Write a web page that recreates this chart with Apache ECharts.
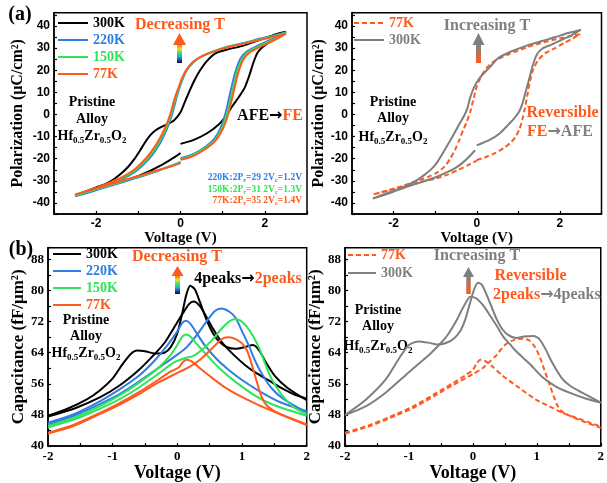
<!DOCTYPE html>
<html>
<head>
<meta charset="utf-8">
<script src="https://cdn.jsdelivr.net/npm/echarts@6.0.0/dist/echarts.min.js"></script>
<style>
html, body { margin: 0; padding: 0; background: #fff; }
#chart { width: 607px; height: 483px; }
</style>
</head>
<body>
<div id="chart"></div>
<script>
// P-V loops, (V, P); start at 0V, up to +2.5, down to -2.5, back to 0
const peBlack300 = [[0,-13.3],[0.3,-11.6],[0.63,-8.5],[0.9,-4.6],[1.06,-1.2],[1.22,3.5],[1.38,7.8],[1.52,12],[1.63,17.5],[1.73,23.5],[1.83,28],[1.97,30.8],[2.2,33.8],[2.5,37.4],
  [2.25,36.2],[2.0,34.5],[1.7,32.5],[1.45,30.9],[1.1,29.3],[0.83,27.6],[0.62,24],[0.45,19.5],[0.32,15],[0.2,10],[0.1,5.5],[0,1],[-0.15,-2.6],[-0.31,-4.4],[-0.45,-5.6],[-0.58,-7],[-0.71,-9.2],[-0.84,-12.6],[-0.97,-16.6],[-1.1,-20.3],[-1.23,-23.4],[-1.4,-26.6],[-1.6,-29.5],[-1.8,-31.6],[-2.0,-33],[-2.25,-34.8],[-2.5,-36.6],
  [-2.2,-35.2],[-1.9,-33.3],[-1.6,-31.5],[-1.3,-29.8],[-1.0,-27.8],[-0.75,-25.8],[-0.5,-23.4],[-0.3,-21.2],[-0.13,-19.2],[0,-17.4]];
const peBlue220 = [[0,-19.8],[0.3,-18],[0.6,-14.5],[0.8,-11],[0.93,-7],[1.03,-2],[1.1,3],[1.17,9],[1.25,15.5],[1.33,21],[1.43,25.5],[1.58,28.5],[1.8,30.8],[2.05,33],[2.3,35],[2.5,37.2],
  [2.2,35.6],[1.9,34.3],[1.5,32.3],[1.1,30.5],[0.75,28.3],[0.5,26.2],[0.3,23.5],[0.15,20],[0.05,16],[-0.05,10.5],[-0.13,5],[-0.2,0],[-0.28,-4.5],[-0.38,-9],[-0.5,-13.5],[-0.66,-18],[-0.86,-22.3],[-1.06,-25.6],[-1.36,-29],[-1.7,-31.8],[-2.0,-33.8],[-2.5,-37],
  [-2.1,-34.8],[-1.7,-32.5],[-1.3,-30.2],[-0.9,-27.8],[-0.5,-25.2],[-0.2,-23],[0,-21.5]];
const peGreen150 = [[0,-20.2],[0.3,-18.4],[0.6,-15],[0.8,-11.8],[0.94,-7.8],[1.05,-2.8],[1.13,2.2],[1.2,8],[1.28,14.5],[1.36,20.3],[1.46,25],[1.6,28.2],[1.83,30.5],[2.08,32.8],[2.3,34.7],[2.5,36.9],
  [2.2,35.3],[1.9,34],[1.5,32.1],[1.1,30.4],[0.75,28.2],[0.5,26.2],[0.3,23.6],[0.15,20.2],[0.05,16.5],[-0.05,11.2],[-0.14,5.8],[-0.21,0.8],[-0.29,-3.7],[-0.39,-8.2],[-0.52,-13],[-0.68,-17.5],[-0.88,-21.9],[-1.08,-25.3],[-1.38,-28.8],[-1.7,-31.4],[-2.0,-33.5],[-2.5,-36.6],
  [-2.1,-34.4],[-1.7,-32.1],[-1.3,-29.8],[-0.9,-27.5],[-0.5,-25.1],[-0.2,-23.1],[0,-21.8]];
const peOrange77 = [[0,-20.5],[0.3,-18.8],[0.6,-15.5],[0.8,-12.5],[0.95,-8.5],[1.07,-3.5],[1.15,1.5],[1.22,7],[1.3,13.5],[1.38,19.5],[1.48,24.5],[1.62,27.8],[1.85,30.2],[2.1,32.5],[2.3,34.3],[2.5,36.5],
  [2.2,35],[1.9,33.8],[1.5,32],[1.1,30.3],[0.75,28.2],[0.5,26.3],[0.3,23.8],[0.15,20.5],[0.05,17],[-0.05,12],[-0.15,6.5],[-0.22,1.5],[-0.3,-3],[-0.4,-7.5],[-0.54,-12.5],[-0.7,-17],[-0.9,-21.5],[-1.1,-25],[-1.4,-28.5],[-1.7,-31],[-2.0,-33.2],[-2.5,-36.2],
  [-2.1,-34],[-1.7,-31.8],[-1.3,-29.5],[-0.9,-27.3],[-0.5,-25],[-0.2,-23.3],[0,-22]];
const peOrange77r = [[0,-20.6],[0.25,-19],[0.45,-17.4],[0.65,-15.2],[0.8,-13],[0.93,-10.2],[1.03,-6.5],[1.1,-2],[1.16,3],[1.22,9],[1.28,15],[1.36,20.5],[1.48,24.6],[1.64,27.6],[1.85,29.6],[2.1,32.3],[2.3,34.3],[2.48,36.3],
  [2.2,35.2],[1.9,34],[1.57,32.4],[1.2,30.3],[0.77,27.2],[0.5,25],[0.36,23.2],[0.22,20.6],[0.1,17],[0,12.5],[-0.08,6.8],[-0.16,1],[-0.24,-3.3],[-0.33,-7.2],[-0.42,-11.5],[-0.52,-15.9],[-0.64,-20],[-0.77,-23.5],[-0.95,-26.2],[-1.17,-28.2],[-1.5,-30.5],[-1.82,-32.5],[-2.2,-34.6],[-2.5,-36.2],
  [-2.1,-34.3],[-1.7,-32.1],[-1.3,-30.3],[-1.0,-29],[-0.7,-27.2],[-0.44,-25],[-0.2,-22.8],[0,-20.9]];
const peGray300r = [[0,-14],[0.32,-11.4],[0.55,-8.6],[0.75,-4.8],[0.9,-1.8],[1.02,1.3],[1.1,5],[1.17,9.8],[1.24,14.5],[1.3,19],[1.37,23.5],[1.45,27.2],[1.58,29.8],[1.8,31.6],[2.05,33.8],[2.28,35.8],[2.5,38.2],
  [2.2,36.8],[1.9,35],[1.57,33.2],[1.2,31.1],[0.77,28],[0.5,25.2],[0.32,21.5],[0.16,18.4],[0.05,16],[-0.07,12],[-0.16,7.5],[-0.23,2.5],[-0.3,-0.5],[-0.4,-3.7],[-0.52,-7.8],[-0.66,-12.5],[-0.8,-17],[-0.94,-21.3],[-1.08,-24.5],[-1.25,-27.2],[-1.45,-29.8],[-1.82,-33.3],[-2.2,-35.8],[-2.5,-38],
  [-2.1,-35.6],[-1.7,-32.8],[-1.3,-30.4],[-1.0,-28.5],[-0.7,-26],[-0.5,-24],[-0.35,-22],[-0.18,-19],[-0.04,-16.2]];

// C-V butterflies, (V, C), two sweeps per temperature
const cvBlack300a = [[-2,47.8],[-1.7,49.6],[-1.4,52],[-1.2,54.3],[-1.0,57.4],[-0.85,61],[-0.72,63.7],[-0.62,64.6],[-0.5,64.4],[-0.35,63.8],[-0.2,64],[-0.1,65.5],[0,69],[0.08,74.5],[0.14,79],[0.2,81.2],[0.27,80.3],[0.35,77],[0.45,72.5],[0.55,69],[0.65,66.8],[0.77,65.4],[0.9,65],[1.05,65.5],[1.17,66],[1.27,64.5],[1.37,61.5],[1.5,58.2],[1.7,55],[2,51.8]];
const cvBlack300b = [[-2,47.6],[-1.6,49.6],[-1.2,52.5],[-0.9,55.5],[-0.6,59.5],[-0.4,62.8],[-0.2,66.5],[-0.05,70.5],[0.08,74],[0.18,76.5],[0.25,77.2],[0.35,76],[0.45,73.2],[0.55,70.2],[0.65,67.6],[0.75,65.5],[0.9,63],[1.05,60.8],[1.2,59],[1.4,57],[1.6,55],[1.8,53.3],[2,52.2]];
const cvBlue220a = [[-2,46],[-1.6,48.2],[-1.2,51.5],[-0.9,54.5],[-0.6,58],[-0.35,62],[-0.15,66],[0,69.5],[0.07,71.5],[0.13,72.2],[0.2,71.5],[0.3,69],[0.42,66],[0.6,62.5],[0.8,59.5],[1.0,57],[1.3,53.8],[1.6,51.2],[2,49]];
const cvBlue220b = [[-2,45.6],[-1.6,47.8],[-1.2,50.8],[-0.9,53.3],[-0.6,56.5],[-0.3,60],[0,63.5],[0.15,65.5],[0.3,68.5],[0.45,72],[0.58,74.7],[0.68,75.4],[0.8,74.6],[0.9,73],[1.0,69.5],[1.1,66],[1.2,62],[1.3,58.8],[1.45,55],[1.65,52],[2,48.6]];
const cvGreen150a = [[-2,45.2],[-1.6,47.3],[-1.2,50.3],[-0.9,53],[-0.6,56.2],[-0.3,60],[-0.1,63.5],[0,66],[0.07,68],[0.13,68.7],[0.2,68.2],[0.3,66.3],[0.45,63.5],[0.65,60],[0.9,56.5],[1.2,53],[1.5,50.5],[2,47.8]];
const cvGreen150b = [[-2,44.8],[-1.6,46.8],[-1.2,49.6],[-0.9,52],[-0.6,55],[-0.3,58.5],[-0.05,61.5],[0.1,62.5],[0.25,63.2],[0.4,65],[0.55,67.5],[0.7,70.5],[0.8,72],[0.88,72.6],[0.97,72.3],[1.07,70.8],[1.17,68.3],[1.27,65],[1.35,61.5],[1.45,57.5],[1.6,53.5],[1.8,50],[2,48.2]];
const cvOrange77a = [[-2,43.4],[-1.6,45.5],[-1.2,48.5],[-0.9,51],[-0.6,53.8],[-0.3,57],[-0.1,59.2],[0.02,60.2],[0.08,61.5],[0.14,62.2],[0.22,61.8],[0.35,60],[0.5,58],[0.7,55.5],[0.9,53.5],[1.2,51],[1.5,48.8],[2,45.4]];
const cvOrange77b = [[-2,43.2],[-1.6,45.2],[-1.2,48.2],[-0.9,50.6],[-0.6,53.3],[-0.3,56.3],[0,58.8],[0.2,60.5],[0.35,62.2],[0.5,64.5],[0.62,66.5],[0.72,67.8],[0.8,68],[0.9,67.5],[1.0,66.4],[1.08,64.5],[1.15,61],[1.22,57],[1.3,52.8],[1.38,50.5],[1.5,49],[1.7,47.5],[2,45.6]];
const cvGray300ra = [[-2,48],[-1.67,52],[-1.36,57.2],[-1.16,62.4],[-1.0,66],[-0.85,66.9],[-0.7,66.6],[-0.55,66.1],[-0.42,66.5],[-0.3,67.6],[-0.2,69.5],[-0.12,72.5],[-0.05,76.5],[0.02,80.3],[0.08,82],[0.14,81.5],[0.22,78.7],[0.3,75.5],[0.37,72.7],[0.45,70.3],[0.55,68.6],[0.68,67.8],[0.8,68.2],[0.95,68.3],[1.04,67.5],[1.14,64.8],[1.24,61.5],[1.39,57.5],[1.52,55.5],[1.7,53.8],[2,51.2]];
const cvGray300rb = [[-2,48],[-1.67,50.3],[-1.36,53.8],[-1.0,59],[-0.8,61.8],[-0.65,64],[-0.5,66.5],[-0.39,68.7],[-0.25,72.5],[-0.14,76],[-0.04,78.4],[0.05,78],[0.17,76],[0.27,73.5],[0.37,71],[0.48,68],[0.58,66.2],[0.68,64.3],[0.88,61.3],[1.09,57.7],[1.3,55.3],[1.5,53.8],[1.75,52.3],[2,51.2]];
const cvOrange77ra = [[-2,43.4],[-1.6,45.5],[-1.2,48.2],[-0.9,50.5],[-0.6,53.4],[-0.3,56.3],[-0.1,58.4],[0,59.6],[0.06,61.3],[0.12,62.2],[0.2,61.8],[0.3,60.5],[0.45,58.3],[0.68,55.5],[0.98,52],[1.2,50.2],[1.39,48.6],[1.7,46.8],[2,45]];
const cvOrange77rb = [[-2,43.2],[-1.6,45.2],[-1.2,47.9],[-0.9,50.1],[-0.6,52.9],[-0.3,55.8],[0,58.5],[0.15,60],[0.25,61.5],[0.37,63.4],[0.5,66],[0.65,67.3],[0.78,67.6],[0.88,67.2],[0.97,65.5],[1.04,63.2],[1.12,59.5],[1.19,56.3],[1.26,53],[1.32,50.5],[1.4,48.8],[1.55,47.5],[1.75,46.2],[2,44.7]];

// tick labels
const peTicksX = [-2, 0, 2];
const peTicksY = [-40, -30, -20, -10, 0, 10, 20, 30, 40];
const cvTicksX = [-2, -1, 0, 1, 2];
const cvTicksY = [40, 48, 56, 64, 72, 80, 88];

const SERIF = '"Liberation Serif", "Times New Roman", "DejaVu Serif", serif';
const SANS = '"Liberation Sans", Arial, sans-serif';
const ARROWFONT = '"DejaVu Sans", sans-serif';
const BLACK = '#000000', BLUE = '#2f7ee0', GREEN = '#2fe35a', ORANGE = '#ff5a1e', GRAY = '#7f7f7f';

const chart = echarts.init(document.getElementById('chart'));

function curve(name, data, color, idx, dashed) {
  return {
    name: name, type: 'line', xAxisIndex: idx, yAxisIndex: idx, data: data,
    symbol: 'none', showSymbol: false, smooth: 0.25,
    lineStyle: { color: color, width: 2, type: dashed ? [5, 3] : 'solid' },
    itemStyle: { color: color }
  };
}

function xAx(idx, min, max, interval, ticks, font, size, nameSize, nameGap) {
  return {
    gridIndex: idx, type: 'value', min: min, max: max, interval: interval,
    axisLine: { show: true, onZero: false, lineStyle: { color: '#000', width: 1.5 } },
    axisTick: { show: true, inside: true, length: 3, lineStyle: { color: '#000', width: 1.2 } },
    splitLine: { show: false },
    axisLabel: { formatter: v => ticks.includes(v) ? String(v) : '', color: '#000', fontFamily: font, fontWeight: 'bold', fontSize: size, margin: 4 },
    name: 'Voltage (V)', nameLocation: 'middle', nameGap: nameGap,
    nameTextStyle: { fontFamily: SERIF, fontWeight: 'bold', fontSize: nameSize, color: '#000' }
  };
}

function yAx(idx, min, max, interval, ticks, font, size, name, nameSize, nameGap) {
  return {
    gridIndex: idx, type: 'value', min: min, max: max, interval: interval,
    axisLine: { show: true, onZero: false, lineStyle: { color: '#000', width: 1.5 } },
    axisTick: { show: true, inside: true, length: 3, lineStyle: { color: '#000', width: 1.2 } },
    splitLine: { show: false },
    axisLabel: { formatter: v => ticks.includes(v) ? String(v) : '', color: '#000', fontFamily: font, fontWeight: 'bold', fontSize: size, margin: 4 },
    name: name, nameLocation: 'middle', nameGap: nameGap,
    nameTextStyle: { fontFamily: SERIF, fontWeight: 'bold', fontSize: nameSize, color: '#000' }
  };
}

function legendAt(left, top, width, gap, items) {
  return {
    orient: 'vertical', left: left, top: top, padding: 0,
    itemWidth: width, itemHeight: 12, itemGap: gap, selectedMode: false,
    itemStyle: { color: 'rgba(0,0,0,0)', borderColor: 'rgba(0,0,0,0)', borderWidth: 0, opacity: 0 },
    formatter: n => n.split('-')[1],
    textStyle: { fontFamily: SERIF, fontWeight: 'bold', fontSize: 14 },
    data: items.map(it => ({ name: it[0], textStyle: { color: it[1] } }))
  };
}

function label(x, y, text, color, size, align) {
  return {
    type: 'text', x: x, y: y, silent: true,
    style: { text: text, fill: color, fontFamily: SERIF, fontWeight: 'bold', fontSize: size,
      align: align || 'center', verticalAlign: 'middle', textAlign: align || 'center', textVerticalAlign: 'middle' }
  };
}

function richLabel(x, y, text, rich, align) {
  return {
    type: 'text', x: x, y: y, silent: true,
    style: { text: text, rich: rich, fontFamily: SERIF, fontWeight: 'bold',
      align: align || 'center', verticalAlign: 'middle', textAlign: align || 'center', textVerticalAlign: 'middle' }
  };
}

const subRich = {
  m: { fontFamily: SERIF, fontWeight: 'bold', fontSize: 14, lineHeight: 18, fill: '#000', color: '#000' },
  s: { fontFamily: SERIF, fontWeight: 'bold', fontSize: 9, lineHeight: 10, verticalAlign: 'bottom', fill: '#000', color: '#000' }
};
function sample(cx, y1, y2, y3) {
  return [
    label(cx, y1, 'Pristine', '#000', 14),
    label(cx, y2, 'Alloy', '#000', 14),
    richLabel(cx, y3, '{m|Hf}{s|0.5}{m|Zr}{s|0.5}{m|O}{s|2}', subRich)
  ];
}

// first word, arrow, second word
function twoTone(c1, cArrow, c2, size) {
  return {
    a: { fontFamily: SERIF, fontWeight: 'bold', fontSize: size, lineHeight: 20, fill: c1, color: c1 },
    r: { fontFamily: ARROWFONT, fontWeight: 'bold', fontSize: size, lineHeight: 20, fill: cArrow, color: cArrow },
    b: { fontFamily: SERIF, fontWeight: 'bold', fontSize: size, lineHeight: 20, fill: c2, color: c2 }
  };
}

function prRich(color) {
  return {
    t: { fontFamily: SERIF, fontWeight: 'bold', fontSize: 9.5, lineHeight: 12, fill: color, color: color },
    s: { fontFamily: SERIF, fontWeight: 'bold', fontSize: 6.5, lineHeight: 7, verticalAlign: 'bottom', fill: color, color: color }
  };
}

function arrow(cx, headTop, headBot, shaftBot, headW, shaftW, headColor, stops) {
  return [
    { type: 'rect', silent: true, shape: { x: cx - shaftW / 2, y: headBot - 0.5, width: shaftW, height: shaftBot - headBot + 0.5 },
      style: { fill: { type: 'linear', x: 0, y: 0, x2: 0, y2: 1, colorStops: stops } } },
    { type: 'polygon', silent: true, shape: { points: [[cx - headW / 2, headBot], [cx + headW / 2, headBot], [cx, headTop]] },
      style: { fill: headColor } }
  ];
}
const jetStops = [
  { offset: 0, color: '#ff6a10' }, { offset: 0.25, color: '#f0e020' }, { offset: 0.45, color: '#40e060' },
  { offset: 0.65, color: '#10b8d8' }, { offset: 0.82, color: '#2050c0' }, { offset: 1, color: '#101018' }
];
const grayStops = [
  { offset: 0, color: '#808080' }, { offset: 0.5, color: '#c07050' }, { offset: 1, color: '#ff5a1e' }
];

const option = {
  animation: false,
  backgroundColor: '#fff',
  grid: [
    { left: 54, top: 12.7, width: 253, height: 201.3, show: true, borderColor: '#000', borderWidth: 1.5 },
    { left: 352, top: 12.7, width: 249.5, height: 201.3, show: true, borderColor: '#000', borderWidth: 1.5 },
    { left: 48, top: 247.7, width: 258.7, height: 199, show: true, borderColor: '#000', borderWidth: 1.5 },
    { left: 345, top: 247.7, width: 261, height: 199, show: true, borderColor: '#000', borderWidth: 1.5 }
  ],
  xAxis: [
    xAx(0, -3, 3, 1, peTicksX, SANS, 12, 15, 15),
    xAx(1, -3, 3, 1, peTicksX, SANS, 12, 15, 15),
    xAx(2, -2, 2, 0.5, cvTicksX, SERIF, 13, 18, 10),
    xAx(3, -2, 2, 0.5, cvTicksX, SERIF, 13, 18, 10)
  ],
  yAxis: [
    yAx(0, -45, 46, 5, peTicksY, SANS, 12, 'Polarization (μC/cm²)', 16, 28),
    yAx(1, -45, 46, 5, peTicksY, SANS, 12, 'Polarization (μC/cm²)', 16, 25),
    yAx(2, 40, 91, 4, cvTicksY, SERIF, 13, 'Capacitance (fF/μm²)', 17, 20),
    yAx(3, 40, 91, 4, cvTicksY, SERIF, 13, 'Capacitance (fF/μm²)', 17, 20)
  ],
  legend: [
    legendAt(57, 16, 30, 3, [['a-300K', BLACK], ['a-220K', BLUE], ['a-150K', GREEN], ['a-77K', ORANGE]]),
    legendAt(353, 16, 30, 3, [['b-77K', ORANGE], ['b-300K', GRAY]]),
    legendAt(52, 247, 28, 3, [['c-300K', BLACK], ['c-220K', BLUE], ['c-150K', GREEN], ['c-77K', ORANGE]]),
    legendAt(347, 248, 28, 4, [['d-77K', ORANGE], ['d-300K', GRAY]])
  ],
  series: [
    curve('a-300K', peBlack300, BLACK, 0),
    curve('a-220K', peBlue220, BLUE, 0),
    curve('a-150K', peGreen150, GREEN, 0),
    curve('a-77K', peOrange77, ORANGE, 0),
    curve('b-77K', peOrange77r, ORANGE, 1, true),
    curve('b-300K', peGray300r, GRAY, 1),
    curve('c-300K', cvBlack300a, BLACK, 2),
    curve('c-300K', cvBlack300b, BLACK, 2),
    curve('c-220K', cvBlue220a, BLUE, 2),
    curve('c-220K', cvBlue220b, BLUE, 2),
    curve('c-150K', cvGreen150a, GREEN, 2),
    curve('c-150K', cvGreen150b, GREEN, 2),
    curve('c-77K', cvOrange77a, ORANGE, 2),
    curve('c-77K', cvOrange77b, ORANGE, 2),
    curve('d-77K', cvOrange77ra, ORANGE, 3, true),
    curve('d-77K', cvOrange77rb, ORANGE, 3, true),
    curve('d-300K', cvGray300ra, GRAY, 3),
    curve('d-300K', cvGray300rb, GRAY, 3)
  ],
  graphic: [].concat(
    [label(20, 15, '(a)', '#000', 20), label(21, 250, '(b)', '#000', 20)],
    [label(180, 25, 'Decreasing T', ORANGE, 16), label(177, 257, 'Decreasing T', ORANGE, 16)],
    [label(487, 26, 'Increasing T', GRAY, 16), label(477, 256, 'Increasing T', GRAY, 16)],
    arrow(179.5, 33, 45, 63, 13, 5, ORANGE, jetStops),
    arrow(177.5, 266, 276, 294, 12, 5, ORANGE, jetStops),
    arrow(478.5, 33, 45, 63, 12, 5, GRAY, grayStops),
    arrow(468.5, 267, 277, 294, 11, 4.5, GRAY, grayStops),
    sample(92, 102, 119, 136),
    sample(393, 102, 118, 137),
    sample(86, 320, 336.5, 353),
    sample(378, 310, 326, 346),
    [richLabel(270, 116, '{a|AFE}{r|→}{b|FE}', twoTone('#000', '#000', ORANGE, 16))],
    [label(562.5, 113, 'Reversible', ORANGE, 16), richLabel(527, 132, '{a|FE}{r|→}{b|AFE}', twoTone(ORANGE, GRAY, GRAY, 16), 'left')],
    [richLabel(248, 279, '{a|4peaks}{r|→}{b|2peaks}', twoTone('#000', '#000', ORANGE, 16))],
    [label(530.5, 276, 'Reversible', ORANGE, 16), richLabel(493, 295, '{a|2peaks}{r|→}{b|4peaks}', twoTone(ORANGE, GRAY, GRAY, 16), 'left')],
    [
      richLabel(302, 178, '{t|220K:2P}{s|r}{t|=29 2V}{s|c}{t|=1.2V}', prRich(BLUE), 'right'),
      richLabel(302, 189.5, '{t|150K:2P}{s|r}{t|=31 2V}{s|c}{t|=1.3V}', prRich(GREEN), 'right'),
      richLabel(302, 201, '{t|77K:2P}{s|r}{t|=35 2V}{s|c}{t|=1.4V}', prRich(ORANGE), 'right')
    ]
  )
};

chart.setOption(option);
</script>
</body>
</html>
